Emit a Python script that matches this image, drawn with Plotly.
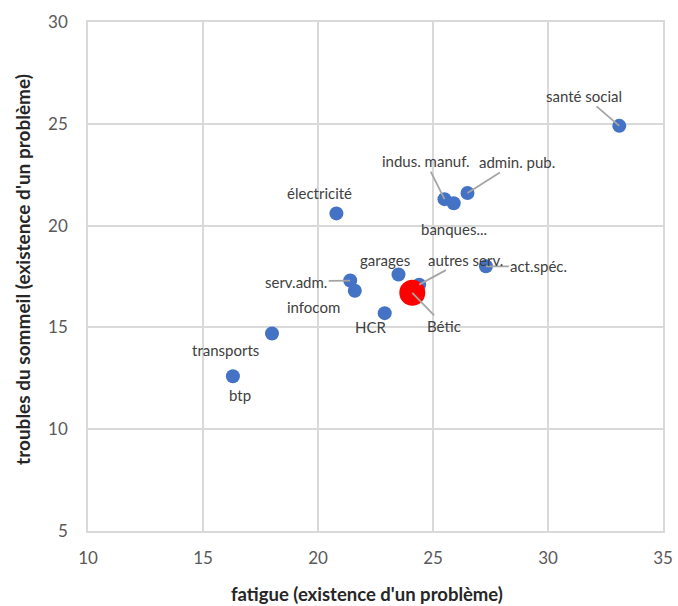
import plotly.graph_objects as go

# Sector values: fatigue (%) vs sleep troubles (%)
secteurs = ["santé social", "admin. pub.", "indus. manuf.", "banques...", "électricité",
            "act.spéc.", "garages", "autres serv.", "serv.adm.", "infocom", "HCR",
            "transports", "btp"]
fatigue = [33.1, 26.5, 25.5, 25.9, 20.8, 27.3, 23.5, 24.4, 21.4, 21.6, 22.9, 18.0, 16.3]
sommeil = [24.9, 21.6, 21.3, 21.1, 20.6, 18.0, 17.6, 17.1, 17.3, 16.8, 15.7, 14.7, 12.6]

betic_nom = "Bétic"
betic_fatigue = 24.1
betic_sommeil = 16.7

x_titre = "fatigue (existence d'un problème)"
y_titre = "troubles du sommeil (existence d'un problème)"

# label placement: pixel offset of the label from its point, and whether a leader line is drawn
label_offsets = {
    "santé social": (-35, -30, True),
    "admin. pub.": (49, -31, True),
    "indus. manuf.": (-19, -38, True),
    "banques...": (0, 26, False),
    "électricité": (-17, -20, False),
    "act.spéc.": (53, 0, True),
    "garages": (-14, -14, False),
    "autres serv.": (46, -25, True),
    "serv.adm.": (-54, 1, True),
    "infocom": (-41, 16, False),
    "HCR": (-14, 14, False),
    "transports": (-47, 16, False),
    "btp": (7, 19, False),
    "Bétic": (32, 33, True),
}

FONT = "Lato, 'Open Sans', sans-serif"
GRID = "#d9d9d9"
TXT = "#595959"

fig = go.Figure()
fig.add_trace(go.Scatter(
    x=fatigue, y=sommeil, mode="markers",
    marker=dict(size=14, color="#4472C4"),
    hoverinfo="x+y+text", text=secteurs, showlegend=False,
))
fig.add_trace(go.Scatter(
    x=[betic_fatigue], y=[betic_sommeil], mode="markers",
    marker=dict(size=26, color="#FF0000"),
    hoverinfo="x+y+text", text=[betic_nom], showlegend=False,
))

noms = secteurs + [betic_nom]
xs = fatigue + [betic_fatigue]
ys = sommeil + [betic_sommeil]
for nom, x, y in zip(noms, xs, ys):
    dx, dy, line = label_offsets[nom]
    fig.add_annotation(
        x=x, y=y, text=nom, showarrow=True, ax=dx, ay=dy,
        arrowhead=0, arrowwidth=1.8,
        arrowcolor="#a5a5a5" if line else "rgba(0,0,0,0)",
        font=dict(family=FONT, size=15, color="#404040"),
    )

# axis titles
fig.add_annotation(
    xref="paper", yref="paper", x=0.485, y=-0.124, showarrow=False,
    text=f"<b>{x_titre}</b>", xanchor="center", yanchor="middle",
    font=dict(family=FONT, size=18.5, color="#262626"),
)
fig.add_annotation(
    xref="paper", yref="paper", x=-0.113, y=0.513, showarrow=False,
    text=f"<b>{y_titre}</b>", textangle=-90, xanchor="center", yanchor="middle",
    font=dict(family=FONT, size=19, color="#262626"),
)

fig.update_layout(
    width=678, height=606,
    margin=dict(l=88, r=15, t=22, b=75),
    paper_bgcolor="white", plot_bgcolor="white",
    font=dict(family=FONT, color=TXT),
    xaxis=dict(
        range=[10, 35], dtick=5, showgrid=True, gridcolor=GRID, gridwidth=1.5,
        showline=True, mirror=True, linecolor=GRID, linewidth=1.5, zeroline=False,
        ticks="", ticklabelstandoff=11, automargin=False,
        tickfont=dict(size=17, color=TXT, family=FONT),
    ),
    yaxis=dict(
        range=[5, 30], dtick=5, showgrid=True, gridcolor=GRID, gridwidth=1.5,
        showline=True, mirror=True, linecolor=GRID, linewidth=1.5, zeroline=False,
        ticks="", ticklabelstandoff=15, automargin=False,
        tickfont=dict(size=17, color=TXT, family=FONT),
    ),
)

fig.write_html("out.html")
